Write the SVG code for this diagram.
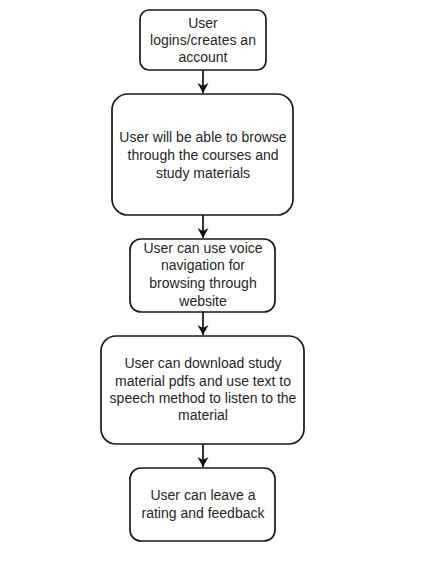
<svg xmlns="http://www.w3.org/2000/svg" width="423" height="564" viewBox="0 0 423 564">
<style>
.box{fill:#fff;stroke:#1a1a1a;stroke-width:1.7}
.t{font-family:"Liberation Sans",Arial,sans-serif;font-size:14px;fill:#262626;text-anchor:middle}
.c{stroke:#111;stroke-width:1.7;fill:none}
</style>
<defs>
<marker id="ah" markerWidth="12" markerHeight="12" refX="10" refY="6" orient="auto" markerUnits="userSpaceOnUse">
<path d="M0,0.5 L10,6 L0,11.5 L3,6 Z" fill="#111"/>
</marker>
</defs>
<rect width="423" height="564" fill="#fff"/>
<g id="connectors">
<line class="c" x1="203" y1="70" x2="203" y2="93" marker-end="url(#ah)"/>
<line class="c" x1="203" y1="215" x2="203" y2="238" marker-end="url(#ah)"/>
<line class="c" x1="203" y1="312" x2="203" y2="335" marker-end="url(#ah)"/>
<line class="c" x1="203" y1="444" x2="203" y2="467" marker-end="url(#ah)"/>
</g>
<g id="n1">
<rect class="box" x="140" y="10" width="126" height="60" rx="9"/>
<text class="t"><tspan x="203" y="28">User</tspan><tspan x="203" y="45">logins/creates an</tspan><tspan x="203" y="62">account</tspan></text>
</g>
<g id="n2">
<rect class="box" x="112" y="94" width="181" height="121" rx="16"/>
<text class="t"><tspan x="203" y="142">User will be able to browse</tspan><tspan x="203" y="160">through the courses and</tspan><tspan x="203" y="178">study materials</tspan></text>
</g>
<g id="n3">
<rect class="box" x="130" y="239" width="145" height="73" rx="11"/>
<text class="t"><tspan x="203" y="253">User can use voice</tspan><tspan x="203" y="270">navigation for</tspan><tspan x="203" y="288">browsing through</tspan><tspan x="203" y="306">website</tspan></text>
</g>
<g id="n4">
<rect class="box" x="101" y="336" width="203" height="108" rx="15"/>
<text class="t"><tspan x="203" y="368">User can download study</tspan><tspan x="203" y="386">material pdfs and use text to</tspan><tspan x="203" y="403">speech method to listen to the</tspan><tspan x="203" y="420">material</tspan></text>
</g>
<g id="n5">
<rect class="box" x="130" y="468" width="145" height="73" rx="11"/>
<text class="t"><tspan x="203" y="500">User can leave a</tspan><tspan x="203" y="518">rating and feedback</tspan></text>
</g>
</svg>
